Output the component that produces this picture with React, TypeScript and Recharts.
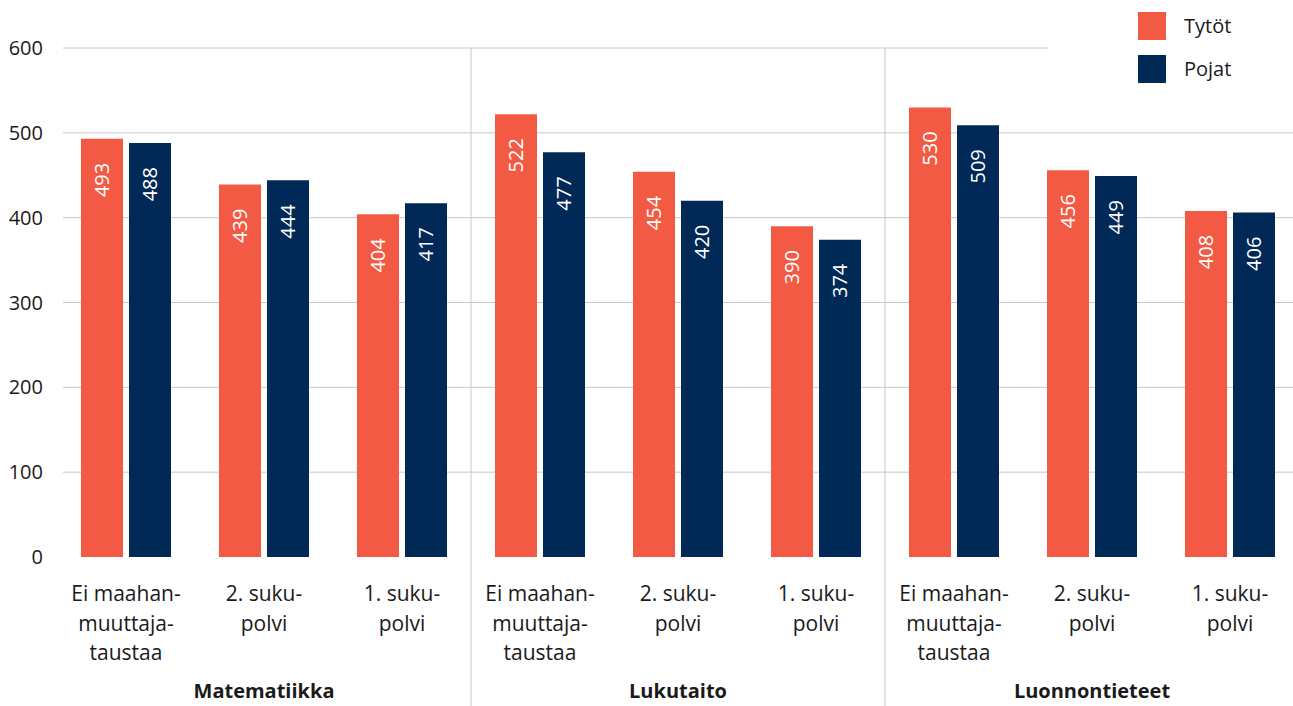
import React from "react";
import {
  BarChart,
  Bar,
  XAxis,
  YAxis,
  CartesianGrid,
  LabelList,
  Legend,
} from "recharts";

const groups = ["Matematiikka", "Lukutaito", "Luonnontieteet"];
const subLabels = [
  ["Ei maahan-", "muuttaja-", "taustaa"],
  ["2. suku-", "polvi"],
  ["1. suku-", "polvi"],
];
const tytot = [493, 439, 404, 522, 454, 390, 530, 456, 408];
const pojat = [488, 444, 417, 477, 420, 374, 509, 449, 406];
const yTicks = [0, 100, 200, 300, 400, 500, 600];
const gridValues = [100, 200, 300, 400, 500, 600];

const RED = "#F25A44";
const NAVY = "#002957";
const FONT = "'Open Sans', sans-serif";

const data = tytot.map((t, i) => ({
  key: String(i),
  group: groups[Math.floor(i / 3)],
  lines: subLabels[i % 3],
  Tytöt: t,
  Pojat: pojat[i],
}));

const XTick = (props: any) => {
  const { x, y, index } = props;
  const d = data[index];
  if (!d) return null;
  const half = 69;
  return (
    <g>
      {index % 3 === 2 && index < data.length - 1 && (
        <line x1={x + half} x2={x + half} y1={y - 509} y2={y + 149} stroke="#c8c8c8" strokeWidth={1} />
      )}
      {d.lines.map((l: string, k: number) => (
        <text
          key={k}
          x={x}
          y={y + 36 + k * 29.5}
          textAnchor="middle"
          dominantBaseline="central"
          fontFamily={FONT}
          fontSize={21}
          fill="#1a1a1a"
        >
          {l}
        </text>
      ))}
      {index % 3 === 1 && (
        <text
          x={x}
          y={y + 133}
          textAnchor="middle"
          dominantBaseline="central"
          fontFamily={FONT}
          fontSize={20}
          fontWeight={700}
          fill="#1a1a1a"
        >
          {d.group}
        </text>
      )}
    </g>
  );
};

const ValueLabel = (props: any) => {
  const { x, y, width, value } = props;
  const cx = x + width / 2;
  const cy = y + 24;
  return (
    <text
      x={cx}
      y={cy}
      transform={`rotate(-90 ${cx} ${cy})`}
      textAnchor="end"
      dominantBaseline="central"
      fontFamily={FONT}
      fontSize={20}
      fill="#ffffff"
    >
      {value}
    </text>
  );
};

const legendItems = [
  { name: "Tytöt", color: RED },
  { name: "Pojat", color: NAVY },
];

const LegendContent = () => (
  <div style={{ width: 245, height: 95, background: "#fff", paddingTop: 12, boxSizing: "border-box" }}>
    {legendItems.map((e) => (
      <div
        key={e.name}
        style={{ display: "flex", alignItems: "center", height: 28, marginBottom: 15, marginLeft: 90 }}
      >
        <div style={{ width: 28, height: 28, background: e.color, flex: "none" }} />
        <div
          style={{
            marginLeft: 18,
            fontFamily: FONT,
            fontSize: 20,
            color: "#1a1a1a",
            lineHeight: "28px",
          }}
        >
          {e.name}
        </div>
      </div>
    ))}
  </div>
);

export default function App() {
  return (
    <div style={{ position: "absolute", left: 0, top: 0, width: 1293, height: 706, background: "#fff" }}>
      <BarChart
        width={1293}
        height={706}
        data={data}
        margin={{ top: 48, right: 0, left: 0, bottom: 0 }}
        barCategoryGap={24}
        barGap={6}
      >
        <CartesianGrid vertical={false} stroke="#c8c8c8" horizontalValues={gridValues} />
        <XAxis
          dataKey="key"
          height={149}
          axisLine={false}
          tickLine={false}
          tickSize={0}
          tickMargin={0}
          interval={0}
          padding={{ left: -6, right: -6 }}
          tick={<XTick />}
        />
        <YAxis
          width={63}
          domain={[0, 600]}
          ticks={yTicks}
          axisLine={false}
          tickLine={false}
          tickSize={0}
          tickMargin={20}
          tick={{ fontFamily: FONT, fontSize: 20, fill: "#1a1a1a" }}
        />
        <Legend
          layout="horizontal"
          verticalAlign="middle"
          align="center"
          content={<LegendContent />}
          wrapperStyle={{ left: 1048, top: 0, width: 245, height: 95 }}
        />
        <Bar dataKey="Tytöt" fill={RED} barSize={42} isAnimationActive={false}>
          <LabelList dataKey="Tytöt" content={<ValueLabel />} />
        </Bar>
        <Bar dataKey="Pojat" fill={NAVY} barSize={42} isAnimationActive={false}>
          <LabelList dataKey="Pojat" content={<ValueLabel />} />
        </Bar>
      </BarChart>
    </div>
  );
}
